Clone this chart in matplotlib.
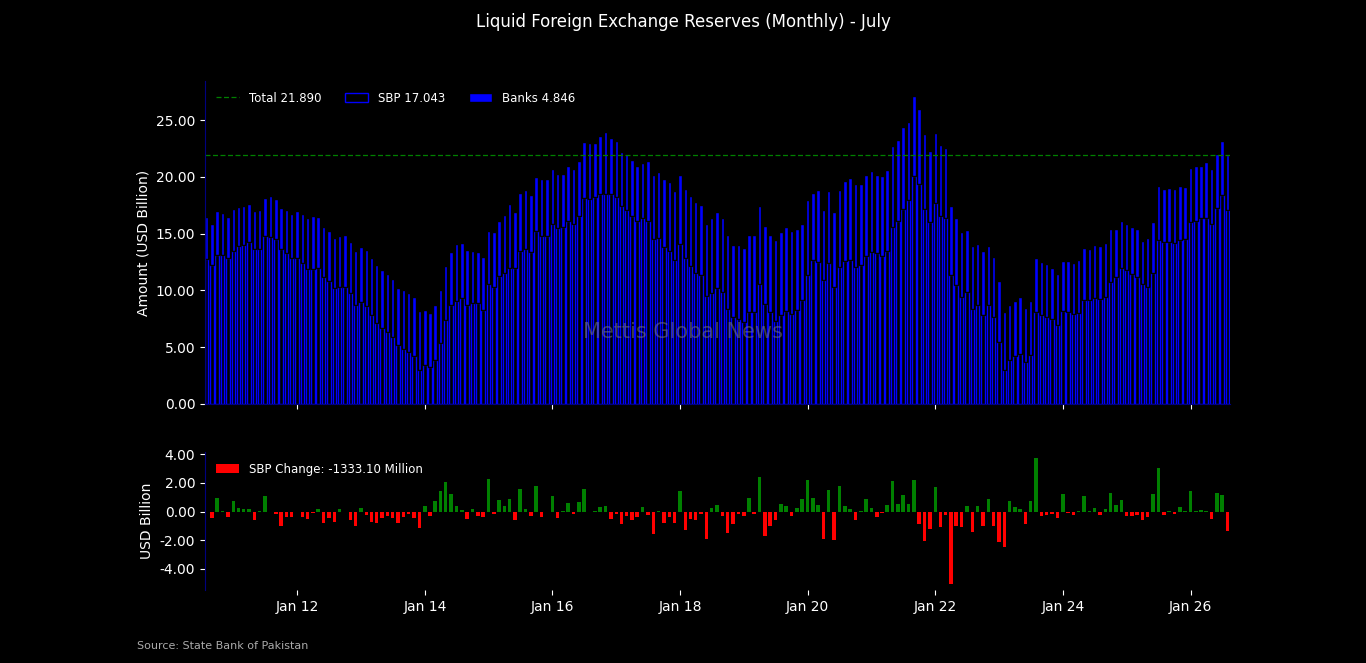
import matplotlib
matplotlib.use('Agg')
import matplotlib.pyplot as plt
import matplotlib.dates as mdates
from matplotlib.patches import Patch
from matplotlib.ticker import FormatStrFormatter, MultipleLocator
import numpy as np
import pandas as pd

# Month-end dates, Jul 2010 .. Jul 2026
dates = pd.date_range('2010-07-31', periods=193, freq='ME')

# Total liquid reserves (USD bn)
total = [
    16.46, 15.88, 16.96, 16.84, 16.43, 17.13, 17.31, 17.40, 17.57, 16.96, 17.05, 18.16,
    18.27, 18.01, 17.28, 17.05, 16.70, 16.96, 16.75, 16.37, 16.52, 16.43, 15.56, 15.20,
    14.62, 14.80, 14.85, 14.24, 13.45, 13.80, 13.54, 12.87, 12.22, 11.78, 11.43, 10.99,
    10.20, 10.03, 9.80, 9.39, 8.22, 8.27, 7.98, 8.68, 10.03, 12.16, 13.36, 14.06,
    14.21, 13.54, 13.45, 13.36, 12.92, 15.20, 15.15, 16.08, 16.61, 17.63, 16.93, 18.60,
    18.80, 18.42, 20.00, 19.77, 19.77, 20.70, 20.26, 20.26, 20.91, 20.70, 21.35, 23.10,
    23.01, 23.01, 23.63, 23.98, 23.39, 23.19, 22.22, 22.02, 21.52, 20.99, 21.20, 21.35,
    20.20, 20.41, 19.77, 19.50, 18.74, 20.12, 18.89, 18.27, 17.75, 17.49, 15.85, 16.37,
    16.90, 16.37, 14.85, 13.98, 13.98, 13.74, 14.85, 14.85, 17.40, 15.67, 14.85, 14.47,
    15.12, 15.58, 15.23, 15.38, 15.88, 17.98, 18.60, 18.80, 17.11, 18.71, 16.87, 18.80,
    19.59, 19.88, 19.33, 19.33, 20.20, 20.50, 20.12, 20.03, 20.61, 22.69, 23.27, 24.36,
    24.80, 27.08, 25.99, 23.80, 22.31, 23.89, 22.84, 22.57, 17.40, 16.37, 15.12, 15.35,
    13.92, 14.12, 13.48, 13.95, 12.92, 10.82, 8.07, 8.71, 9.06, 9.39, 8.48, 9.06,
    12.81, 12.49, 12.31, 11.99, 11.43, 12.57, 12.57, 12.43, 12.66, 13.74, 13.63, 13.98,
    13.89, 14.18, 15.38, 15.38, 16.08, 15.88, 15.58, 15.38, 14.36, 14.65, 16.02, 19.21,
    18.89, 19.01, 18.89, 19.15, 19.06, 20.79, 20.91, 20.96, 21.26, 20.70, 22.02, 23.19,
    21.8897,
]

# SBP reserves (USD bn)
sbp = [
    12.75, 12.22, 13.16, 13.16, 12.81, 13.48, 13.89, 14.04, 14.30, 13.65, 13.65, 14.82,
    14.71, 14.53, 13.65, 13.33, 12.87, 12.87, 12.43, 11.90, 11.87, 11.99, 11.20, 10.82,
    10.18, 10.32, 10.32, 9.74, 8.68, 8.95, 8.65, 7.84, 7.11, 6.67, 6.37, 5.94,
    5.18, 4.88, 4.62, 4.24, 3.01, 3.42, 3.25, 3.89, 5.35, 7.40, 8.68, 9.09,
    9.30, 8.71, 8.92, 8.86, 8.27, 10.56, 10.32, 11.26, 11.55, 11.99, 11.93, 13.48,
    13.68, 13.42, 15.23, 14.80, 14.80, 15.88, 15.47, 15.58, 16.08, 15.88, 16.58, 18.16,
    18.07, 18.22, 18.51, 18.45, 18.45, 18.22, 17.46, 17.05, 16.52, 16.08, 16.37, 16.14,
    14.53, 14.65, 13.83, 13.48, 12.66, 14.06, 12.81, 12.19, 11.55, 11.40, 9.50, 9.74,
    10.18, 9.88, 8.39, 7.63, 7.46, 7.25, 8.13, 8.13, 10.56, 8.80, 8.07, 7.34,
    7.84, 8.22, 7.92, 8.27, 9.15, 11.35, 12.66, 12.51, 10.91, 12.37, 10.32, 12.08,
    12.57, 12.66, 12.08, 12.22, 13.04, 13.39, 13.30, 13.04, 13.48, 15.58, 16.11, 17.19,
    17.92, 20.06, 19.33, 17.19, 15.99, 17.66, 16.58, 16.40, 11.40, 10.50, 9.39, 9.85,
    8.39, 8.68, 7.81, 8.71, 7.69, 5.50, 3.01, 3.83, 4.24, 4.42, 3.68, 4.33,
    8.10, 7.81, 7.63, 7.46, 6.99, 8.22, 8.13, 7.89, 7.98, 9.12, 9.12, 9.30,
    9.24, 9.39, 10.73, 11.20, 11.99, 11.78, 11.43, 11.20, 10.56, 10.26, 11.49, 14.42,
    14.30, 14.27, 14.21, 14.42, 14.50, 16.02, 16.11, 16.37, 16.37, 15.88, 17.25, 18.36,
    17.0434,
]

# Month-on-month change in SBP reserves (USD bn), Aug 2010 .. Jul 2026
sbp_change = [
    -0.46, 0.97, 0.02, -0.39, 0.76, 0.28, 0.21, 0.21, -0.60, 0.02, 1.10, -0.05,
    -0.18, -0.97, -0.37, -0.39, -0.05, -0.39, -0.55, -0.11, 0.21, -0.80, -0.46, -0.69,
    0.21, -0.05, -0.60, -1.01, 0.28, -0.25, -0.74, -0.80, -0.46, -0.32, -0.46, -0.80,
    -0.39, -0.14, -0.46, -1.15, 0.41, -0.32, 0.76, 1.45, 2.07, 1.26, 0.41, 0.14,
    -0.55, 0.21, -0.32, -0.39, 2.28, -0.14, 0.83, 0.41, 0.90, -0.60, 1.59, 0.21,
    -0.32, 1.79, -0.41, -0.05, 1.10, -0.46, 0.07, 0.62, -0.18, 0.69, 1.59, -0.05,
    0.07, 0.34, 0.41, -0.55, -0.14, -0.87, -0.34, -0.62, -0.39, 0.34, -0.25, -1.59,
    0.07, -0.80, -0.41, -0.80, 1.45, -1.29, -0.55, -0.60, -0.18, -1.93, 0.28, 0.48,
    -0.34, -1.52, -0.83, -0.14, -0.34, 0.97, -0.14, 2.41, -1.72, -0.97, -0.62, 0.55,
    0.41, -0.34, 0.28, 0.90, 2.21, 0.97, 0.48, -1.93, 1.52, -2.00, 1.79, 0.41,
    0.21, -0.62, 0.02, 0.90, 0.28, -0.41, -0.07, 0.48, 2.14, 0.55, 1.17, 0.55,
    2.21, -0.83, -2.07, -1.24, 1.72, -1.10, -0.21, -5.03, -0.97, -1.10, 0.41, -1.45,
    0.41, -0.97, 0.90, -1.03, -2.14, -2.48, 0.76, 0.34, 0.21, -0.83, 0.76, 3.72,
    -0.34, -0.21, -0.14, -0.48, 1.24, -0.07, -0.21, 0.07, 1.10, 0.02, 0.28, -0.21,
    0.21, 1.31, 0.48, 0.83, -0.34, -0.34, -0.21, -0.62, -0.41, 1.24, 3.03, -0.21,
    0.02, -0.14, 0.34, 0.07, 1.45, 0.07, 0.14, 0.07, -0.55, 1.31, 1.17, -1.3331,
]

total = np.array(total)
sbp = np.array(sbp)
banks = total - sbp
sbp_change = np.array(sbp_change)
change_dates = dates[1:]

bg = 'black'
fig = plt.figure(figsize=(13.66, 6.63), dpi=100, facecolor=bg)
ax1 = fig.add_axes([205/1366, 1 - 404/663, 1025/1366, 323/663], facecolor=bg)
ax2 = fig.add_axes([205/1366, 1 - 590/663, 1025/1366, 138/663], facecolor=bg, sharex=ax1)

w = 20  # bar width in days
ax1.axhline(total[-1], color='green', lw=0.9, ls=(0, (4, 2)),
            label=f'Total {total[-1]:.3f}')
ax1.bar(dates, sbp, width=w, facecolor='black', edgecolor='blue', lw=1,
        label=f'SBP {sbp[-1]:.3f}')
ax1.bar(dates, banks, width=w, bottom=sbp, facecolor='blue', edgecolor='black', lw=1,
        label=f'Banks {banks[-1]:.3f}')
ax1.set_ylabel('Amount (USD Billion)', color='white', fontsize=10)
ax1.yaxis.set_major_formatter(FormatStrFormatter('%.2f'))
ax1.legend(loc='upper left', ncol=3, frameon=False, fontsize=8.5, labelcolor='white')

cols = ['green' if v >= 0 else 'red' for v in sbp_change]
ax2.bar(change_dates, sbp_change, width=w, color=cols)
chg_handle = Patch(facecolor='red', label=f'SBP Change: {sbp_change[-1]*1000:.2f} Million')
ax2.set_ylabel('USD Billion', color='white', fontsize=10)
ax2.yaxis.set_major_locator(MultipleLocator(2))
ax2.yaxis.set_major_formatter(FormatStrFormatter('%.2f'))
ax2.legend(handles=[chg_handle], loc='upper left', frameon=False, fontsize=8.5,
           labelcolor='white')

ax1.set_xlim(dates[0] - pd.Timedelta(days=9), dates[-1] + pd.Timedelta(days=14))
ax2.xaxis.set_major_locator(mdates.YearLocator(2))
ax2.xaxis.set_major_formatter(mdates.DateFormatter('%b %y'))
plt.setp(ax1.get_xticklabels(), visible=False)

for ax in (ax1, ax2):
    ax.tick_params(colors='white', labelsize=10)
    for s in ('top', 'right'):
        ax.spines[s].set_visible(False)
    ax.spines['left'].set_color('navy')
    ax.spines['bottom'].set_color('navy')
ax2.spines['bottom'].set_visible(False)

fig.align_ylabels([ax1, ax2])
fig.suptitle('Liquid Foreign Exchange Reserves (Monthly) - July', color='white',
             fontsize=12, y=0.981)
fig.text(0.5, 0.5, 'Mettis Global News', fontsize=15, color='gray', alpha=0.5,
         ha='center', va='center')
fig.text(137/1366, 1 - 646/663, 'Source: State Bank of Pakistan', fontsize=8,
         color='#aaaaaa', va='center')

fig.savefig('out.png', dpi=100, facecolor=bg)
